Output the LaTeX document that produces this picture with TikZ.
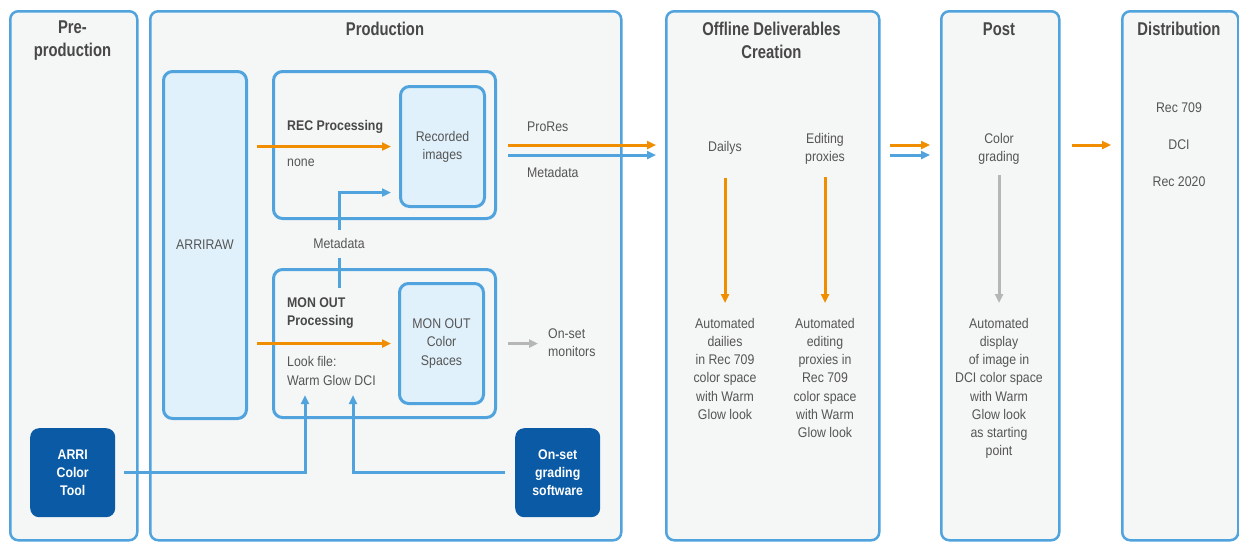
\documentclass[tikz,border=0pt]{standalone}
\usepackage{fontspec}
\setmainfont{Liberation Sans}[FakeStretch=0.88]
\newfontfamily\headfont{Liberation Sans}[FakeStretch=0.8]
\usetikzlibrary{arrows.meta, positioning}
\definecolor{arriblue}{RGB}{80,163,221}
\definecolor{arriorange}{RGB}{240,142,0}
\definecolor{arridark}{RGB}{10,90,165}
\definecolor{lightfill}{RGB}{224,241,251}
\definecolor{panelfill}{RGB}{245,247,247}
\definecolor{textgray}{RGB}{85,85,85}
\definecolor{headgray}{RGB}{72,72,72}
\definecolor{arrowgray}{RGB}{182,182,182}
\tikzset{>={Triangle[length=9pt,width=8pt]}}

\begin{document}
\begin{tikzpicture}[x=1pt, y=-1pt,
    every node/.style={font=\fontsize{14}{18.2}\selectfont, text=textgray, align=center, inner sep=0pt},
    panel/.style={draw=arriblue, line width=2.5pt, fill=panelfill, rounded corners=8pt, anchor=north west},
    groupbox/.style={draw=arriblue, line width=3pt, fill=panelfill, rounded corners=9pt, anchor=north west},
    innerbox/.style={draw=arriblue, line width=3pt, fill=lightfill, rounded corners=9pt, anchor=north west},
    toolbox/.style={fill=arridark, rounded corners=9pt, anchor=north west, text=white,
        font=\bfseries\fontsize{14}{18.2}\selectfont, minimum width=85pt, minimum height=89pt},
    head/.style={font=\headfont\bfseries\fontsize{18.5}{23}\selectfont, text=headgray},
    label/.style={font=\bfseries\fontsize{14}{18.2}\selectfont, text=headgray, align=left, anchor=west},
    orangeflow/.style={draw=arriorange, line width=3pt, ->},
    blueflow/.style={draw=arriblue, line width=3pt, ->},
    grayflow/.style={draw=arrowgray, line width=3pt, ->}]
    \useasboundingbox (0,0) rectangle (1239,541);

    \node[panel, minimum width=127pt, minimum height=529pt](pre) at (9,10){};
    \node[panel, minimum width=471pt, minimum height=529pt](prod) at (149,10){};
    \node[panel, minimum width=213pt, minimum height=529pt](offline) at (665,10){};
    \node[panel, minimum width=118pt, minimum height=529pt](post) at (940,10){};
    \node[panel, minimum width=116pt, minimum height=529pt](dist) at (1121,10){};

    \node[head](prehead) at (72.5,40.5){Pre-\\production};
    \node[head](prodhead) at (385,29){Production};
    \node[head](offhead) at (771.5,40.5){Offline Deliverables\\Creation};
    \node[head](posthead) at (999,29){Post};
    \node[head](disthead) at (1179,29){Distribution};

    \node[innerbox, minimum width=83pt, minimum height=347pt](arriraw) at (162,70){ARRIRAW};
    \node[groupbox, minimum width=222pt, minimum height=147pt](recgroup) at (272,70){};
    \node[innerbox, minimum width=84pt, minimum height=120pt](recimg) at (399,85){Recorded\\images};
    \node[label](recproc) at (287,127){REC Processing};
    \node[anchor=west](none) at (287,163){none};
    \node(metalabel) at (339,243){Metadata};
    \node[groupbox, minimum width=222pt, minimum height=148pt](mongroup) at (272,268){};
    \node[innerbox, minimum width=84pt, minimum height=120pt](moncs) at (398,282){MON OUT\\Color\\Spaces};
    \node[label](monproc) at (287,313){MON OUT\\Processing};
    \node[anchor=west, align=left](lookfile) at (287,371){Look file:\\Warm Glow DCI};
    \node[anchor=west, align=left](monitors) at (548,343){On-set\\monitors};
    \node[toolbox](arritool) at (30,428){ARRI\\Color\\Tool};
    \node[toolbox](grading) at (515,428){On-set\\grading\\software};
    \node[anchor=west](prores) at (527,127){ProRes};
    \node[anchor=west](metaout) at (527,172){Metadata};

    \node(dailys) at (725,148){Dailys};
    \node(editing) at (825,149){Editing\\proxies};
    \node[anchor=north](autodailies) at (725,318){Automated\\dailies\\in Rec 709\\color space\\with Warm\\Glow look};
    \node[anchor=north](autoproxies) at (825,318){Automated\\editing\\proxies in\\Rec 709\\color space\\with Warm\\Glow look};
    \node(grade) at (999,149){Color\\grading};
    \node[anchor=north](autopost) at (999,318){Automated\\display\\of image in\\DCI color space\\with Warm\\Glow look\\as starting\\point};
    \node(rec709) at (1179,108){Rec 709};
    \node(dci) at (1179,145){DCI};
    \node(rec2020) at (1179,182){Rec 2020};

    \coordinate(metabot) at (339,288);
    \coordinate(lookA) at (305,395);
    \coordinate(lookB) at (353,395);
    \path (offline.west |- recgroup.east) coordinate (offin)
          (offline.east |- recgroup.east) coordinate (offout)
          (post.west |- recgroup.east) coordinate (postin)
          (post.east |- recgroup.east) coordinate (postout)
          (dist.west |- recgroup.east) coordinate (distin);

    \draw[orangeflow, shorten <=9pt, shorten >=8pt](arriraw.east |- recimg.west)--(recimg.west);
    \draw[orangeflow, shorten <=9pt, shorten >=7pt](arriraw.east |- moncs.west)--(moncs.west);
    \draw[grayflow, shorten <=11pt, shorten >=10pt](mongroup.east |- moncs.east)--(monitors.west |- moncs.east);
    \draw[draw=arriblue, line width=3pt, shorten >=10pt](metabot)--(metalabel);
    \draw[blueflow, shorten <=8pt, shorten >=8pt](metalabel.north)|-([yshift=-46pt]recimg.west);
    \draw[blueflow, shorten <=9pt](arritool.east)-|(lookA);
    \draw[blueflow, shorten <=10pt](grading.west)-|(lookB);

    \draw[orangeflow, shorten <=11pt, shorten >=9pt](recgroup.east)--(offin);
    \draw[blueflow, shorten <=11pt, shorten >=9pt]([yshift=-10pt]recgroup.east)--([yshift=-10pt]offin);
    \draw[orangeflow, shorten <=9pt, shorten >=10pt](offout)--(postin);
    \draw[blueflow, shorten <=9pt, shorten >=10pt]([yshift=-10pt]offout)--([yshift=-10pt]postin);
    \draw[orangeflow, shorten <=11pt, shorten >=10pt](postout)--(distin);

    \draw[orangeflow, shorten <=23pt, shorten >=15pt](dailys)--(autodailies);
    \draw[orangeflow, shorten <=12pt, shorten >=15pt](editing)--(autoproxies);
    \draw[grayflow, shorten <=10pt, shorten >=15pt](grade)--(autopost);
\end{tikzpicture}
\end{document}
